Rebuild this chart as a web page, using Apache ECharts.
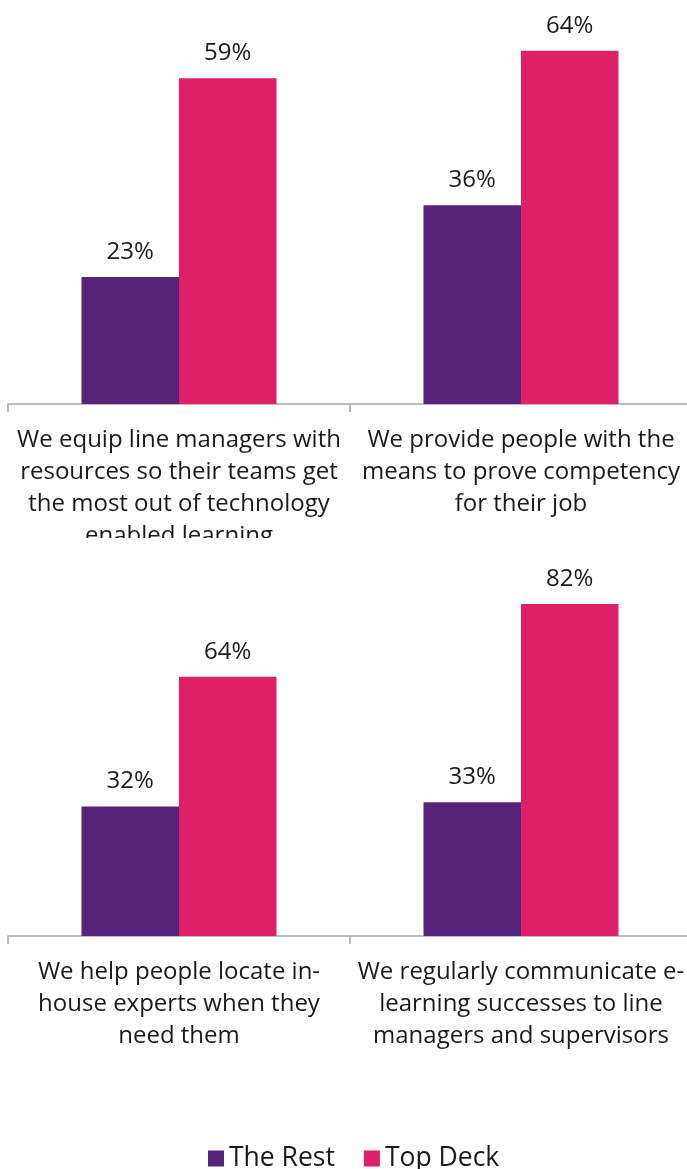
<!DOCTYPE html>
<html>
<head>
<meta charset="utf-8">
<script src="https://cdn.jsdelivr.net/npm/echarts@6/dist/echarts.min.js"></script>
<style>
  html, body { margin: 0; padding: 0; background: #fff; }
  #top { position: absolute; left: 0; top: 0; width: 687px; height: 538px; }
  #bottom { position: absolute; left: 0; top: 541px; width: 687px; height: 628px; }
</style>
</head>
<body>
<div id="top"></div>
<div id="bottom"></div>
<script>
// Survey statements, split over two panels
const topCategories = [
  'We equip line managers with\nresources so their teams get\nthe most out of technology\nenabled learning',
  'We provide people with the\nmeans to prove competency\nfor their job'
];
const bottomCategories = [
  'We help people locate in-\nhouse experts when they\nneed them',
  'We regularly communicate e-\nlearning successes to line\nmanagers and supervisors'
];
const seriesNames = ['The Rest', 'Top Deck'];
const topRest = [23, 36];
const topDeck = [59, 64];
const bottomRest = [32, 33];
const bottomDeck = [64, 82];

const COLORS = ['#552378', '#E01F69'];
const FONT = '"Open Sans", "Noto Sans", sans-serif';

function panelOption(categories, rest, deck, grid, yMax, withLegend) {
  const label = {
    show: true,
    position: 'top',
    distance: 13,
    formatter: '{c}%',
    color: '#1a1a1a',
    fontFamily: FONT,
    fontSize: 24
  };
  const opt = {
    animation: false,
    color: COLORS,
    grid: Object.assign({ outerBoundsMode: 'none', containLabel: false }, grid),
    xAxis: {
      type: 'category',
      data: categories,
      axisLine: { lineStyle: { color: '#a6a6a6', width: 1.5 } },
      axisTick: { show: true, length: 8, lineStyle: { color: '#a6a6a6', width: 1.5 } },
      axisLabel: {
        interval: 0,
        margin: 20,
        color: '#1a1a1a',
        fontFamily: FONT,
        fontSize: 24,
        lineHeight: 32,
        align: 'center'
      }
    },
    yAxis: {
      type: 'value',
      min: 0,
      max: yMax,
      show: false,
      splitLine: { show: false }
    },
    series: [
      { name: seriesNames[0], type: 'bar', data: rest, barWidth: 97.5, barGap: '0%', label: label },
      { name: seriesNames[1], type: 'bar', data: deck, barWidth: 97.5, barGap: '0%', label: label }
    ]
  };
  if (withLegend) {
    opt.legend = {
      data: seriesNames,
      left: 203,
      top: 599,
      icon: 'rect',
      itemWidth: 16,
      itemHeight: 16,
      itemGap: 29,
      textStyle: { color: '#1a1a1a', fontFamily: FONT, fontSize: 26.5 }
    };
  }
  return opt;
}

const chartTop = echarts.init(document.getElementById('top'));
chartTop.setOption(panelOption(topCategories, topRest, topDeck,
  { left: 8, top: 17.6, width: 684, height: 386.4 }, 70, false));

const chartBottom = echarts.init(document.getElementById('bottom'));
chartBottom.setOption(panelOption(bottomCategories, bottomRest, bottomDeck,
  { left: 8, top: 30.5, width: 684, height: 364.5 }, 90, true));
</script>
</body>
</html>
